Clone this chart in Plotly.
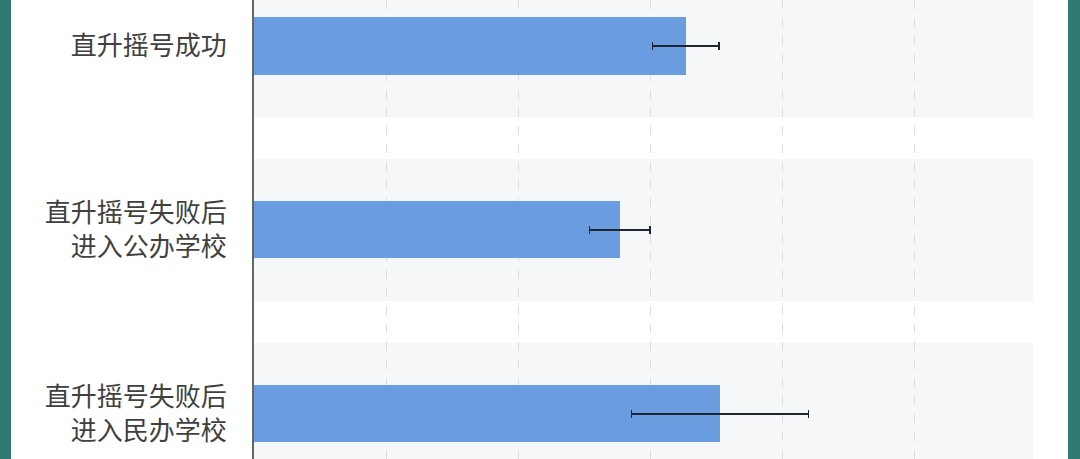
import plotly.graph_objs as go

# categories, top to bottom
categories = [
    "直升摇号成功",
    "直升摇号失败后<br>进入公办学校",
    "直升摇号失败后<br>进入民办学校",
]
values = [3.27, 2.77, 3.53]
errors = [0.25, 0.23, 0.67]

W, H = 1080, 459
plot_left, plot_right = 254, 1033
x_max = 5.9
teal = "#2f7a70"

trace = go.Bar(
    y = categories,
    x = values,
    orientation = 'h',
    width = 0.31,
    hoverinfo = 'skip',
    marker = {
        'color': 'rgb(106, 157, 224)',
        'line': {'width': 0}
    },
    error_x = {
        'type': 'data',
        'array': errors,
        'visible': True,
        'color': '#1e2430',
        'thickness': 1.5,
        'width': 4
    }
)

# light background band behind each category
shapes = []
for i in range(len(categories)):
    shapes.append({
        'type': 'rect', 'xref': 'x', 'yref': 'y',
        'x0': 0, 'x1': x_max, 'y0': i - 0.386, 'y1': i + 0.386,
        'fillcolor': '#f6f7f9', 'line': {'width': 0}, 'layer': 'below'
    })

# teal frame strips at the left and right edges
pw = plot_right - plot_left
def px(v):
    return (v - plot_left) / pw

shapes.append({
    'type': 'rect', 'xref': 'paper', 'yref': 'paper',
    'x0': px(0), 'x1': px(11), 'y0': 0, 'y1': 1,
    'fillcolor': teal, 'line': {'width': 0}, 'layer': 'above'
})
shapes.append({
    'type': 'rect', 'xref': 'paper', 'yref': 'paper',
    'x0': px(1068), 'x1': px(W), 'y0': 0, 'y1': 1,
    'fillcolor': teal, 'line': {'width': 0}, 'layer': 'above'
})

layout = go.Layout(
    width = W,
    height = H,
    margin = {'l': plot_left, 'r': W - plot_right, 't': 0, 'b': 0, 'pad': 0},
    paper_bgcolor = 'white',
    plot_bgcolor = 'white',
    showlegend = False,
    bargap = 0,
    xaxis = {
        'range': [0, x_max],
        'tickmode': 'linear',
        'tick0': 0,
        'dtick': 1,
        'showticklabels': False,
        'showgrid': True,
        'gridcolor': '#dcdcdc',
        'griddash': 'dash',
        'gridwidth': 1,
        'zeroline': False,
        'showline': False
    },
    yaxis = {
        'range': [2.245, -0.25],
        'showgrid': False,
        'zeroline': False,
        'showline': True,
        'linecolor': '#666666',
        'linewidth': 2,
        'ticks': '',
        'ticklabelstandoff': 20,
        'tickfont': {
            'family': 'Noto Sans CJK SC',
            'size': 26,
            'color': '#404040'
        }
    },
    shapes = shapes
)

fig = go.Figure(data = [trace], layout = layout)
fig.write_html(
    "out.html",
    config = {'displayModeBar': False, 'staticPlot': True},
    post_script = "document.body.style.margin = '0'; document.body.style.overflow = 'hidden';"
)
